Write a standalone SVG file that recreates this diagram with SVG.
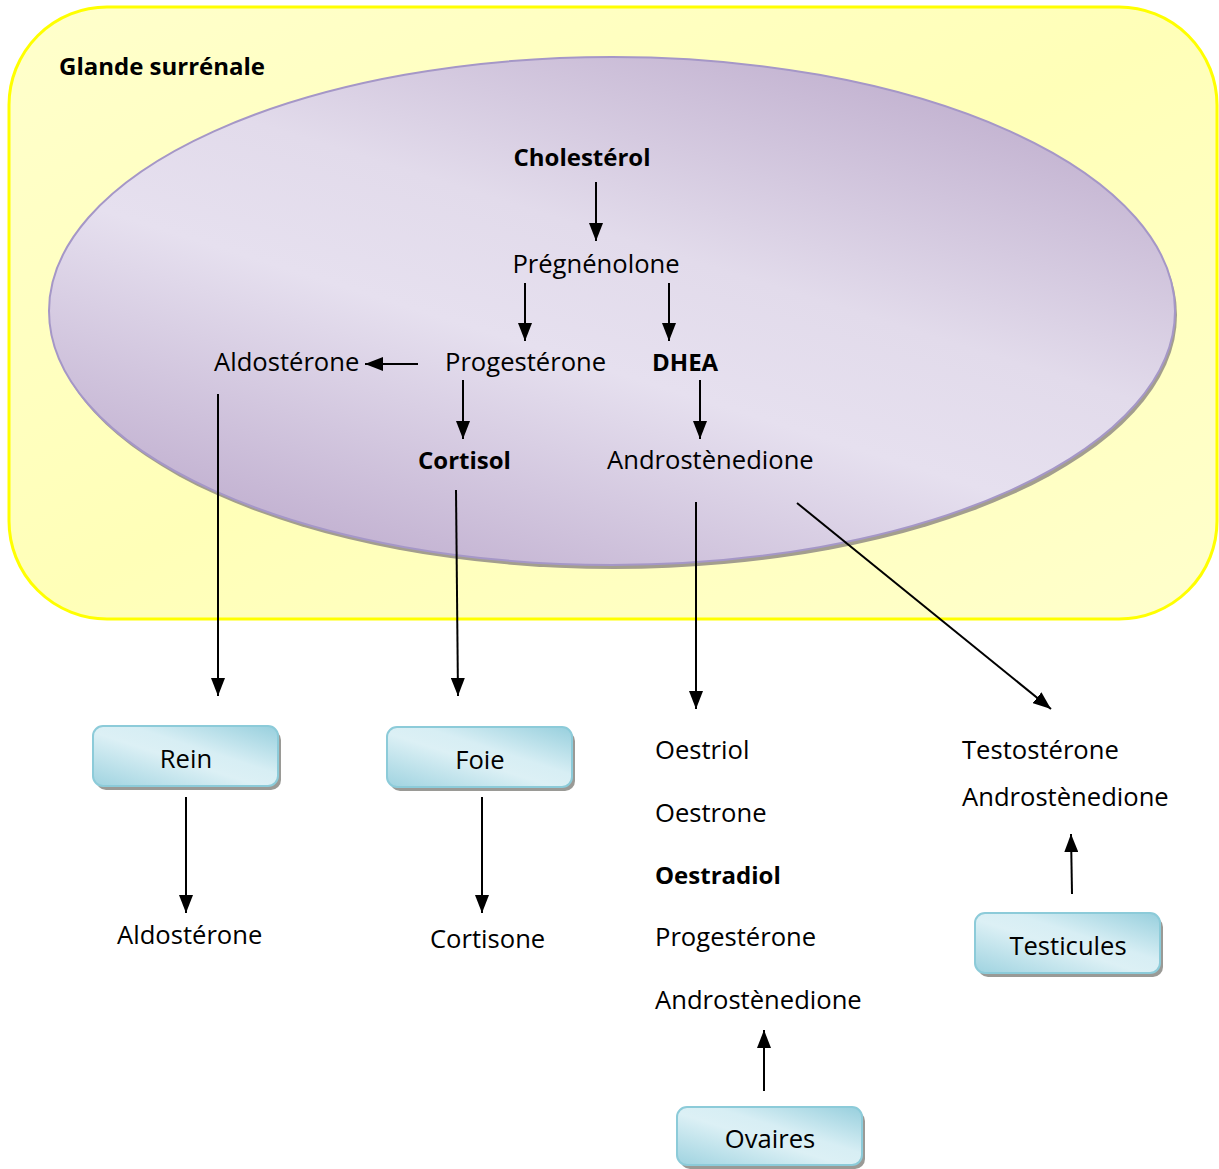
<svg xmlns="http://www.w3.org/2000/svg" width="1219" height="1169" viewBox="0 0 1219 1169">
<defs>
<linearGradient id="yel" x1="0" y1="0" x2="1" y2="1">
<stop offset="0" stop-color="#ffffcc"/>
<stop offset="0.5" stop-color="#ffffb8"/>
<stop offset="1" stop-color="#ffffcc"/>
</linearGradient>
<linearGradient id="ell" x1="0.15" y1="1" x2="0.85" y2="0">
<stop offset="0" stop-color="#bba8cb"/>
<stop offset="0.42" stop-color="#e6e0ef"/>
<stop offset="0.6" stop-color="#e2dbeb"/>
<stop offset="1" stop-color="#bcaacb"/>
</linearGradient>
<linearGradient id="box" x1="0" y1="1" x2="1" y2="0">
<stop offset="0" stop-color="#9fd3e0"/>
<stop offset="0.45" stop-color="#dcf0f5"/>
<stop offset="0.6" stop-color="#d7eef4"/>
<stop offset="1" stop-color="#97cfdd"/>
</linearGradient>
<marker id="ah" viewBox="0 0 18 14" markerWidth="18" markerHeight="14" refX="18" refY="7" orient="auto" markerUnits="userSpaceOnUse">
<path d="M0,0 L18,7 L0,14 z" fill="#000"/>
</marker>
<style>
.t{font-family:"Open Sans","Liberation Sans",sans-serif;font-size:25.6px;fill:#000}
.b{font-weight:bold;font-size:24px}
.m{text-anchor:middle}
.bx{fill:url(#box);stroke:#8ccbd9;stroke-width:2}
.sh{fill:#9a9a96}
.c{stroke:#000;stroke-width:2;fill:none;marker-end:url(#ah)}
</style>
</defs>
<g id="glande">
<rect x="9" y="7" width="1208" height="612" rx="98" ry="98" fill="url(#yel)" stroke="#ffff00" stroke-width="3"/>
<text class="t b" x="59" y="75">Glande surrénale</text>
</g>
<g id="ellipse">
<ellipse cx="614" cy="315" rx="563" ry="254" fill="#a39e8e"/>
<ellipse cx="612" cy="311" rx="563" ry="254" fill="url(#ell)" stroke="#a597c7" stroke-width="2"/>
</g>
<g id="cholesterol"><text class="t b m" x="582" y="166">Cholestérol</text></g>
<g id="pregnenolone"><text class="t m" x="596" y="273">Prégnénolone</text></g>
<g id="aldosterone1"><text class="t" x="214" y="371">Aldostérone</text></g>
<g id="progesterone1"><text class="t" x="445" y="371">Progestérone</text></g>
<g id="dhea"><text class="t b" x="652" y="371">DHEA</text></g>
<g id="cortisol"><text class="t b" x="418" y="469">Cortisol</text></g>
<g id="androstenedione1"><text class="t" x="607" y="469">Androstènedione</text></g>
<g id="rein">
<rect class="sh" x="96" y="730" width="185" height="60" rx="10"/>
<rect class="bx" x="93" y="726" width="185" height="60" rx="10"/>
<text class="t m" x="186" y="768">Rein</text>
</g>
<g id="foie">
<rect class="sh" x="390" y="731" width="185" height="60" rx="10"/>
<rect class="bx" x="387" y="727" width="185" height="60" rx="10"/>
<text class="t m" x="480" y="769">Foie</text>
</g>
<g id="aldosterone2"><text class="t" x="117" y="944">Aldostérone</text></g>
<g id="cortisone"><text class="t" x="430" y="948">Cortisone</text></g>
<g id="ovaires-products">
<text class="t" x="655" y="759">Oestriol</text>
<text class="t" x="655" y="822">Oestrone</text>
<text class="t b" x="655" y="884">Oestradiol</text>
<text class="t" x="655" y="946">Progestérone</text>
<text class="t" x="655" y="1009">Androstènedione</text>
</g>
<g id="ovaires">
<rect class="sh" x="680" y="1111" width="185" height="58" rx="10"/>
<rect class="bx" x="677" y="1107" width="185" height="58" rx="10"/>
<text class="t m" x="770" y="1148">Ovaires</text>
</g>
<g id="testicules-products">
<text class="t" x="962" y="759">Testostérone</text>
<text class="t" x="962" y="806">Androstènedione</text>
</g>
<g id="testicules">
<rect class="sh" x="978" y="917" width="185" height="60" rx="10"/>
<rect class="bx" x="975" y="913" width="185" height="60" rx="10"/>
<text class="t m" x="1068" y="955">Testicules</text>
</g>
<g id="connectors">
<line class="c" x1="596" y1="182" x2="596" y2="241"/>
<line class="c" x1="525" y1="283" x2="525" y2="341"/>
<line class="c" x1="669" y1="283" x2="669" y2="341"/>
<line class="c" x1="418" y1="364" x2="365" y2="364"/>
<line class="c" x1="463" y1="380" x2="463" y2="439"/>
<line class="c" x1="700" y1="380" x2="700" y2="439"/>
<line class="c" x1="218" y1="394" x2="218" y2="696"/>
<line class="c" x1="456" y1="490" x2="458" y2="696"/>
<line class="c" x1="696" y1="502" x2="696" y2="709"/>
<line class="c" x1="797" y1="503" x2="1051" y2="709"/>
<line class="c" x1="186" y1="797" x2="186" y2="913"/>
<line class="c" x1="482" y1="797" x2="482" y2="913"/>
<line class="c" x1="764" y1="1091" x2="764" y2="1030"/>
<line class="c" x1="1072" y1="894" x2="1071" y2="834"/>
</g>
</svg>
